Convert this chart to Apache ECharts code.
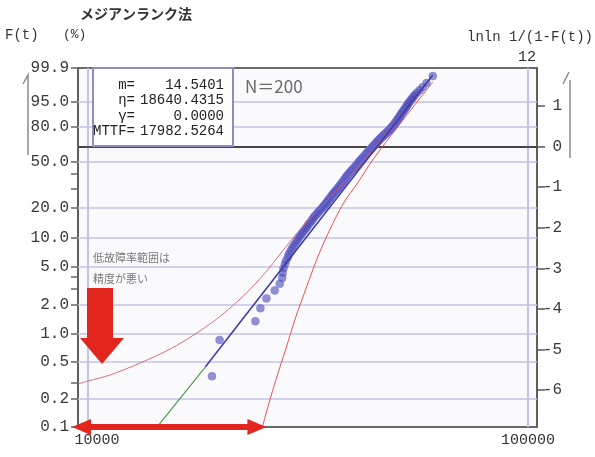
<!DOCTYPE html>
<html>
<head>
<meta charset="utf-8">
<script src="https://cdn.jsdelivr.net/npm/echarts@6/dist/echarts.min.js"></script>
<style>
html, body { margin: 0; padding: 0; background: #ffffff; }
#chart { width: 595px; height: 457px; }
</style>
</head>
<body>
<div id="chart"></div>
<script>
// Weibull probability paper, median-rank plotting positions (n = 200)
const sampleSize = 200;

// Sorted failure times (hours)
const failureTimes = [
  19130, 19910, 24010, 24650, 25440, 26570, 27280, 27620, 27700,
  27810, 28020, 28190, 28460, 28600, 28850,
  29100, 29320, 29610, 29840, 30090,
  30280, 30550, 30720, 31010, 31210,
  31420, 31590, 31800, 32060, 32210,
  32390, 32580, 32700, 32950, 33140, 33300, 33520, 33690, 33930, 34120,
  34260, 34400, 34610, 34720, 34900, 35010, 35180, 35290, 35450, 35590,
  35700, 35860, 35950, 36100, 36270, 36380, 36500, 36640, 36810, 36920,
  37040, 37150, 37310, 37400, 37520, 37660, 37750, 37880, 37990, 38100,
  38200, 38290, 38410, 38500, 38580, 38690, 38800, 38900, 39020, 39110,
  39240, 39350, 39480, 39600, 39690, 39820, 39960, 40080, 40200, 40350,
  40450, 40560, 40650, 40770, 40860, 40990, 41080, 41190, 41300, 41420,
  41510, 41640, 41730, 41860, 41950, 42070, 42160, 42290, 42400, 42530,
  42620, 42760, 42850, 42970, 43080, 43180, 43300, 43390, 43520, 43660,
  43760, 43880, 43990, 44090, 44210, 44320, 44440, 44560, 44690, 44820,
  44930, 45050, 45170, 45290, 45400, 45530, 45640, 45760, 45880, 46010,
  46150, 46290, 46420, 46580, 46720, 46860, 47010, 47160, 47320, 47480,
  47630, 47780, 47940, 48090, 48240, 48390, 48540, 48700, 48860, 49000,
  49130, 49260, 49380, 49520, 49650, 49780, 49900, 50030, 50170, 50300,
  50430, 50560, 50700, 50830, 50970, 51100, 51240, 51370, 51510, 51640,
  51820, 52000, 52190, 52380, 52560, 52750, 52950, 53150, 53360, 53570,
  53880, 54200, 54550, 54900, 55280,
  55900, 56700, 57600, 58800, 60760
];

// Fitted line: [time, ln ln 1/(1-F)]
const fitExtrapolated = [[14360, -6.907], [18470, -5.430]];
const fitLine = [[18470, -5.430], [60760, 1.761]];

// Confidence bounds: [time, ln ln 1/(1-F)]
const upperBound = [
  [9489, -5.848], [10000, -5.774], [11224, -5.627], [13133, -5.331],
  [15377, -4.987], [17527, -4.617], [19471, -4.272], [21281, -3.928],
  [23391, -3.509], [25705, -3.017], [28847, -2.327], [32046, -1.761],
  [35590, -1.244], [39942, -0.653], [45064, 0.012], [51365, 0.776],
  [60122, 1.711]
];
const lowerBound = [
  [24910, -6.907], [25705, -6.366], [26812, -5.701], [28107, -5.011],
  [29619, -4.223], [31381, -3.460], [33413, -2.672], [35590, -2.007],
  [38100, -1.391], [41004, -0.899], [44356, -0.332], [51365, 0.579],
  [60757, 1.588]
];

// Axis ticks
const percentTicks = [99.9, 95, 80, 50, 20, 10, 5, 2, 1, 0.5, 0.2, 0.1];
const percentLabels = ['99.9', '95.0', '80.0', '50.0', '20.0', '10.0', '5.0', '2.0', '1.0', '0.5', '0.2', '0.1'];
const percentMinor = [40, 30, 4, 3, 0.3];
const gridPercents = [95, 80, 50, 20, 10, 5, 2, 1, 0.5, 0.2];
const lnlnTicks = [1, 0, -1, -2, -3, -4, -5, -6];
const decadeTicks = [10000, 100000];
const timeMin = 9489, timeMax = 104830;

// Estimated parameters
const paramNames = ['m=', 'η=', 'γ=', 'MTTF='];
const paramValues = ['14.5401', '18640.4315', '0.0000', '17982.5264'];
const lowRangeEnd = 25440;   // end of the low-failure-rate range marker

const lnlnOf = p => Math.log(-Math.log(1 - p / 100));
const yMin = lnlnOf(0.1), yMax = lnlnOf(99.9);

const medianRankPoints = failureTimes.map((t, k) =>
  [t, lnlnOf(100 * (k + 1 - 0.3) / (sampleSize + 0.4))]);

const MONO = '"Liberation Mono", "DejaVu Sans Mono", monospace';
const JP = '"Noto Sans CJK JP", sans-serif';

const chart = echarts.init(document.getElementById('chart'), null, { renderer: 'canvas' });

const gridLineStyle = { color: '#c3c3e6', width: 1.5, type: 'solid' };

chart.setOption({
  animation: false,
  backgroundColor: '#ffffff',
  grid: {
    left: 78, right: 58, top: 68, bottom: 30,
    show: true, backgroundColor: '#fafafd', borderColor: '#6a6a6a', borderWidth: 2
  },
  xAxis: {
    type: 'log', logBase: 10, min: timeMin, max: timeMax,
    axisLine: { show: true, lineStyle: { color: '#8a8a8a', width: 2 } },
    axisTick: { show: false },
    splitLine: { show: false },
    axisLabel: {
      margin: 6,
      fontFamily: MONO, fontSize: 15, color: '#333',
      formatter: v => {
        if (Math.abs(Math.log10(v) - Math.log10(decadeTicks[0])) < 1e-3) return '{a|' + decadeTicks[0] + '}';
        if (Math.abs(Math.log10(v) - Math.log10(decadeTicks[1])) < 1e-3) return String(decadeTicks[1]);
        return '';
      },
      rich: { a: { fontFamily: MONO, fontSize: 15, color: '#333', padding: [0, 0, 0, 18] } }
    }
  },
  yAxis: [
    {
      type: 'value', position: 'left', min: yMin, max: yMax,
      axisLine: { show: true, lineStyle: { color: '#5e5e5e', width: 2 } },
      axisTick: {
        show: true, length: 7, lineStyle: { color: '#666', width: 1.5 },
        customValues: percentTicks.concat(percentMinor).map(lnlnOf)
      },
      splitLine: { show: false },
      axisLabel: {
        customValues: percentTicks.map(lnlnOf),
        margin: 9, fontFamily: MONO, fontSize: 16, color: '#3a3a3a',
        formatter: v => {
          const i = percentTicks.findIndex(p => Math.abs(lnlnOf(p) - v) < 1e-6);
          return i >= 0 ? percentLabels[i] : '';
        }
      }
    },
    {
      type: 'value', position: 'right', min: yMin, max: yMax,
      axisLine: { show: true, lineStyle: { color: '#5e5e5e', width: 2 } },
      axisTick: { show: true, length: 8, lineStyle: { color: '#555', width: 1.5 }, customValues: lnlnTicks },
      splitLine: { show: false },
      axisLabel: {
        customValues: lnlnTicks, align: 'right', margin: 25,
        fontFamily: MONO, fontSize: 16, color: '#3a3a3a',
        formatter: v => {
          const n = Math.round(v);
          return n < 0 ? '-' + Math.abs(n) : String(n);
        }
      }
    }
  ],
  series: [
    {
      name: 'fit-extrapolated', type: 'line', data: fitExtrapolated,
      showSymbol: false, symbol: 'none', z: 12,
      lineStyle: { color: '#4f9a4f', width: 1.2 },
      markLine: {
        silent: true, symbol: ['none', 'none'], label: { show: false },
        data: gridPercents.map(p => ({ yAxis: lnlnOf(p), lineStyle: gridLineStyle }))
          .concat(decadeTicks.map(t => ({ xAxis: t, lineStyle: { color: '#c3c3e6', width: 2, type: 'solid' } })))
          .concat([{ yAxis: 0, lineStyle: { color: '#2e2e2e', width: 1.5, type: 'solid' } }])
      }
    },
    {
      name: 'points', type: 'scatter', data: medianRankPoints, z: 10,
      symbolSize: 8,
      itemStyle: { color: 'rgba(66, 66, 178, 0.72)', borderColor: 'rgba(125, 125, 215, 0.6)', borderWidth: 1 }
    },
    {
      name: 'upper', type: 'line', data: upperBound, showSymbol: false, symbol: 'none', smooth: 0.3, z: 11,
      lineStyle: { color: 'rgba(214, 92, 118, 0.9)', width: 1 }
    },
    {
      name: 'lower', type: 'line', data: lowerBound, showSymbol: false, symbol: 'none', smooth: 0.3, z: 11,
      lineStyle: { color: 'rgba(226, 64, 64, 0.9)', width: 1 }
    },
    {
      name: 'fit', type: 'line', data: fitLine, showSymbol: false, symbol: 'none', z: 12,
      lineStyle: { color: '#3a3aa8', width: 1.5 }
    }
  ]
});

// Annotations
const baseY = chart.convertToPixel({ xAxisIndex: 0, yAxisIndex: 0 }, [timeMin, yMin]);
const endPt = chart.convertToPixel({ xAxisIndex: 0, yAxisIndex: 0 }, [lowRangeEnd, yMin]);
const xL = baseY[0] - 6, xR = endPt[0], yc = baseY[1];
const head = 19, half = 8, shaft = 3;

const red = '#e2261d';
const graphics = [
  { type: 'text', x: 80, y: 14, style: { text: 'メジアンランク法', font: 'bold 14px ' + JP, fill: '#333', verticalAlign: 'middle' } },
  { type: 'text', x: 5, y: 35, style: { text: 'F(t)', font: '14px ' + MONO, fill: '#333', verticalAlign: 'middle' } },
  { type: 'text', x: 63, y: 35, style: { text: '(%)', font: '13px ' + MONO, fill: '#333', verticalAlign: 'middle' } },
  { type: 'text', x: 593, y: 37, style: { text: 'lnln 1/(1-F(t))', font: '14px ' + MONO, fill: '#333', align: 'right', verticalAlign: 'middle' } },
  { type: 'text', x: 527, y: 57, style: { text: '12', font: '15px ' + MONO, fill: '#333', align: 'center', verticalAlign: 'middle' } },
  // axis direction marks
  { type: 'polyline', shape: { points: [[23, 84], [28, 75], [28, 155]] }, style: { stroke: '#8c8c8c', lineWidth: 1.5, fill: null } },
  { type: 'polyline', shape: { points: [[563, 84], [569, 72]] }, style: { stroke: '#8c8c8c', lineWidth: 1.5, fill: null } },
  { type: 'line', shape: { x1: 570, y1: 80, x2: 570, y2: 158 }, style: { stroke: '#8c8c8c', lineWidth: 1.5 } },
  // parameter box
  { type: 'rect', z: 20, shape: { x: 93, y: 68, width: 140, height: 78 }, style: { fill: '#ffffff', stroke: '#8e8ebe', lineWidth: 2 } },
  { type: 'text', x: 245, y: 87, z: 20, style: { text: 'N＝200', font: '17px ' + JP, fill: '#6a6a6a', verticalAlign: 'middle' } },
  // low-range notes
  { type: 'text', x: 93, y: 258, z: 20, style: { text: '低故障率範囲は', font: '11px ' + JP, fill: '#7a7a7a', verticalAlign: 'middle' } },
  { type: 'text', x: 93, y: 279, z: 20, style: { text: '精度が悪い', font: '11px ' + JP, fill: '#7a7a7a', verticalAlign: 'middle' } },
  { type: 'polygon', z: 20, shape: { points: [[87, 288], [113, 288], [113, 338], [124, 338], [102, 364], [80, 338], [87, 338]] }, style: { fill: red } },
  { type: 'polygon', z: 20, shape: { points: [
      [xL, yc], [xL + head, yc - half], [xL + head, yc - shaft], [xR - head, yc - shaft], [xR - head, yc - half],
      [xR, yc], [xR - head, yc + half], [xR - head, yc + shaft], [xL + head, yc + shaft], [xL + head, yc + half]
    ] }, style: { fill: red } }
];
const rowY = [85, 100.5, 116, 131.5];
paramNames.forEach((name, i) => {
  graphics.push({ type: 'text', x: 135, y: rowY[i], z: 21, style: { text: name, font: '14px ' + MONO, fill: '#222', align: 'right', verticalAlign: 'middle' } });
  graphics.push({ type: 'text', x: 224, y: rowY[i], z: 21, style: { text: paramValues[i], font: '14px ' + MONO, fill: '#222', align: 'right', verticalAlign: 'middle' } });
});
chart.setOption({ graphic: graphics });
</script>
</body>
</html>
